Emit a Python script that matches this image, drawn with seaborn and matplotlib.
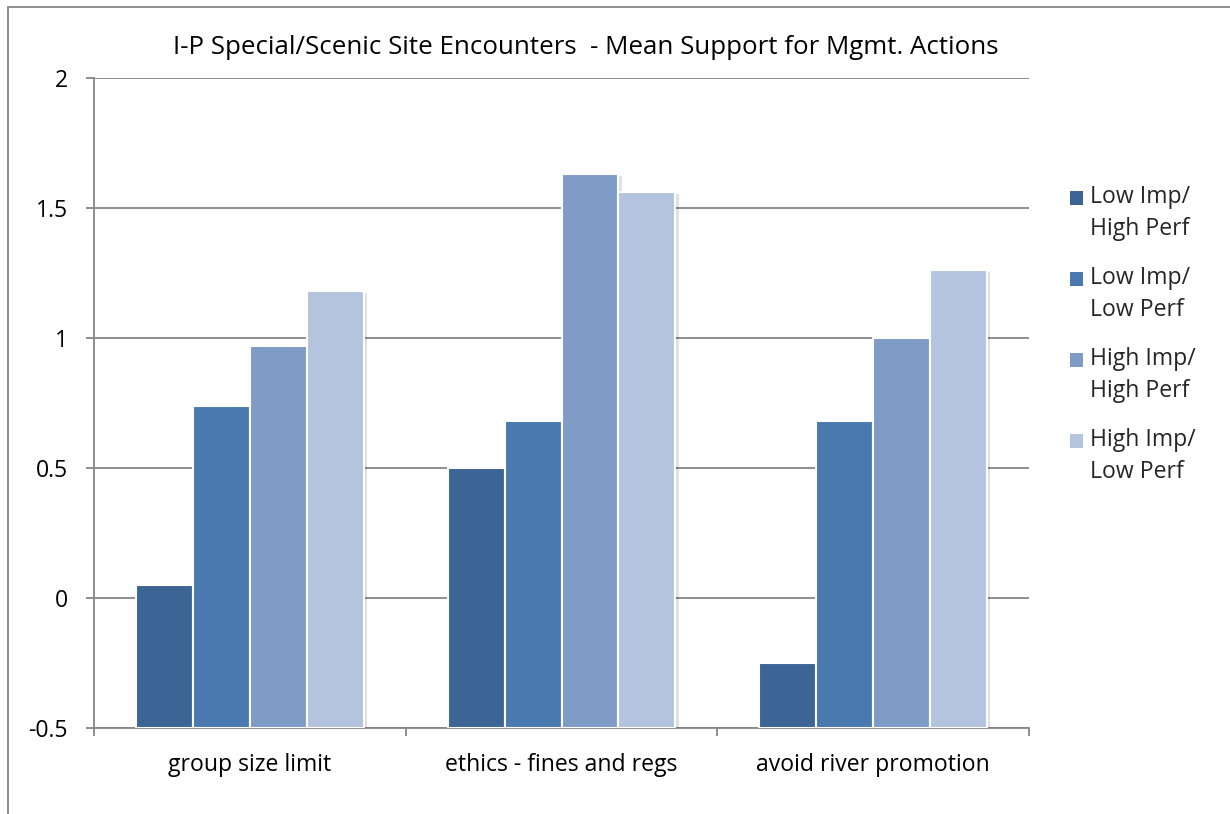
import matplotlib
matplotlib.use("Agg")
import matplotlib.pyplot as plt
import matplotlib.patheffects as pe
from matplotlib.lines import Line2D
from matplotlib.patches import Patch, Rectangle
from matplotlib.legend_handler import HandlerPatch
from matplotlib.ticker import FixedLocator
import numpy as np
import pandas as pd
import seaborn as sns

# Management actions and respondent segments
actions = ["group size limit", "ethics - fines and regs", "avoid river promotion"]
segments = ["Low Imp/\nHigh Perf", "Low Imp/\nLow Perf", "High Imp/\nHigh Perf", "High Imp/\nLow Perf"]

# Mean support per segment, one value per action
low_imp_high_perf = [0.05, 0.50, -0.25]
low_imp_low_perf = [0.74, 0.68, 0.68]
high_imp_high_perf = [0.97, 1.63, 1.00]
high_imp_low_perf = [1.18, 1.56, 1.26]

y_ticks = [-0.5, 0, 0.5, 1, 1.5, 2]
y_tick_labels = ["-0.5", "0", "0.5", "1", "1.5", "2"]

colors = ["#3C6495", "#4A79B0", "#7F9CC7", "#B5C4DE"]
grid_gray = "#868686"

series = [low_imp_high_perf, low_imp_low_perf, high_imp_high_perf, high_imp_low_perf]
rows = []
for seg, vals in zip(segments, series):
    for act, v in zip(actions, vals):
        rows.append({"action": act, "segment": seg, "support": v})
df = pd.DataFrame(rows)

sns.set_theme(style="white")
plt.rcParams["font.family"] = ["Open Sans", "DejaVu Sans"]

FS = 16.6

W, H = 1230, 814
fig = plt.figure(figsize=(W / 100, H / 100), dpi=100)
ax = fig.add_axes([94 / W, 1 - 728 / H, (1029 - 94) / W, (728 - 78) / H])

sns.barplot(
    data=df, x="action", y="support", hue="segment",
    order=actions, hue_order=segments, palette=colors,
    width=0.73, gap=0, edgecolor="white", linewidth=1.5,
    saturation=1, legend=False, ax=ax,
)

# Bars rise from the axis floor (-0.5) as the horizontal axis crosses there
floor = y_ticks[0]
for p in ax.patches:
    h = p.get_y() + p.get_height()
    p.set_y(floor)
    p.set_height(h - floor)
    p.set_path_effects([
        pe.SimplePatchShadow(offset=(2.5, -1.5), shadow_rgbFace="#000000", alpha=0.12),
        pe.Normal(),
    ])
    p.set_zorder(3)

ax.set_ylim(floor, y_ticks[-1])
ax.set_xlim(-0.5, len(actions) - 0.5)
ax.set_yticks(y_ticks)
ax.set_yticklabels(y_tick_labels)
ax.yaxis.grid(True, color=grid_gray, linewidth=1.3)
ax.set_axisbelow(True)

ax.xaxis.set_minor_locator(FixedLocator(np.arange(-0.5, len(actions), 1.0)))
ax.tick_params(axis="x", which="major", length=0, pad=18, labelsize=FS, labelcolor="black")
ax.tick_params(axis="x", which="minor", length=6, width=1.3, color=grid_gray, bottom=True)
ax.tick_params(axis="y", which="major", length=6, width=1.3, color=grid_gray,
               pad=13, labelsize=FS, labelcolor="black", left=True)
ax.set_xlabel("")
ax.set_ylabel("")

for side in ["top", "right"]:
    ax.spines[side].set_visible(False)
for side in ["left", "bottom"]:
    ax.spines[side].set_color(grid_gray)
    ax.spines[side].set_linewidth(1.3)

# Title
fig.text(586 / W, 1 - 47 / H,
         "I-P Special/Scenic Site Encounters  - Mean Support for Mgmt. Actions",
         ha="center", va="center", fontsize=18.6, color="black")


# Legend: square key sits beside the first line of each two-line label
class TopSquare(HandlerPatch):
    def create_artists(self, legend, orig_handle, xdescent, ydescent,
                       width, height, fontsize, trans):
        r = Rectangle((-xdescent, -ydescent + 0.72 * fontsize), width, height,
                      facecolor=orig_handle.get_facecolor(), edgecolor="none",
                      transform=trans)
        return [r]


handles = [Patch(facecolor=c, edgecolor="none") for c in colors]
leg = fig.legend(handles, segments, loc="upper left",
                 bbox_to_anchor=(1061 / W, 1 - 176 / H),
                 frameon=False, fontsize=FS, handlelength=0.56, handleheight=0.56,
                 handletextpad=0.3, labelspacing=1.08, borderaxespad=0,
                 handler_map={Patch: TopSquare()})
for t in leg.get_texts():
    t.set_linespacing(1.45)

# Chart frame
fig.add_artist(Line2D([8 / W, 8 / W], [1 - 7 / H, 0], transform=fig.transFigure,
                      color=grid_gray, linewidth=1.3))
fig.add_artist(Line2D([8 / W, 1], [1 - 7 / H, 1 - 7 / H], transform=fig.transFigure,
                      color=grid_gray, linewidth=1.3))

fig.savefig("out.png", dpi=100, facecolor="white")
